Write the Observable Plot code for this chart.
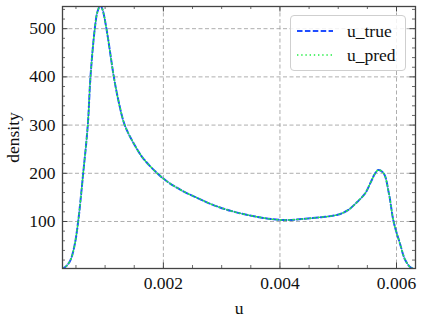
<!DOCTYPE html>
<html><head><meta charset="utf-8">
<script src="https://cdn.jsdelivr.net/npm/d3@7"></script>
<script src="https://cdn.jsdelivr.net/npm/@observablehq/plot@0.6"></script>
<style>
body{margin:0;background:#fff;}
#chart{position:relative;width:423px;height:321px;font-family:"Liberation Serif",serif;}
#chart svg text{font-family:"Liberation Serif",serif !important;font-size:17.5px !important;fill:#111;}
#legend{position:absolute;left:290px;top:15px;width:114px;height:54px;border:1px solid #cfcfcf;border-radius:4px;background:rgba(255,255,255,0.85);font-size:17.5px;color:#111;}
#legend .row{position:absolute;left:6px;height:20px;display:flex;align-items:center;}
#legend .row span{margin-left:14px;}
</style>
</head><body><div id="chart"></div>
<script>
const uValues = [0.000269,0.000338,0.000406,0.000475,0.000538,0.000624,0.000703,0.000749,0.000823,0.000869,0.00092,0.000955,0.001023,0.00115,0.00123,0.001337,0.001491,0.00166,0.002,0.00229,0.00258,0.00284,0.00316,0.00351,0.00385,0.00408,0.00437,0.00471,0.00499,0.00516,0.00533,0.00546,0.00556,0.00563,0.00569,0.00578,0.00587,0.00595,0.00606,0.00615,0.00624,0.00632];
const densityTrue = [2,8,20,50,100,200,300,400,500,535,548,540,500,400,350,300,262,230,189,166,149,135,122,112,105,103,105,109,114,123,141,158,182,199,207,200,158,100,54,20,5,1];
const densityPred = densityTrue.slice();
const seriesNames = ["u_true","u_pred"];
const xMajorTicks = [0.002,0.004,0.006];
const xMinorTicks = [0.0005,0.001,0.0015,0.0025,0.003,0.0035,0.0045,0.005,0.0055];
const yMajorTicks = [100,200,300,400,500];
const yMinorTicks = [20,40,60,80,120,140,160,180,220,240,260,280,320,340,360,380,420,440,460,480,520,540];

const blue = "#1f4dff", green = "#22ee44";
const W=423,H=321,mL=62,mR=8,mT=6,mB=53;
const plotH=H-mT-mB, plotW=W-mL-mR;
const data = uValues.map((u,i)=>({u, t:densityTrue[i], p:densityPred[i]}));
const frameColor="#444";
const grid = {stroke:"#999", strokeOpacity:1, strokeDasharray:"4,2.5", strokeWidth:0.8};
const plot = Plot.plot({
  width:W, height:H, marginLeft:mL, marginRight:mR, marginTop:mT, marginBottom:mB,
  style:{fontFamily:"Liberation Serif, serif", fontSize:"17.5px", color:"#111", background:"transparent"},
  x:{domain:[0.000269,0.006326]},
  y:{domain:[2.5,546]},
  marks:[
    Plot.gridX(xMajorTicks, grid),
    Plot.gridY(yMajorTicks, grid),
    Plot.line(data,{x:"u",y:"t",stroke:blue,strokeWidth:2,strokeDasharray:"5.5,2.4",curve:"catmull-rom",clip:true}),
    Plot.line(data,{x:"u",y:"p",stroke:green,strokeWidth:1.4,strokeDasharray:"1.4,2.8",curve:"catmull-rom",clip:true}),
    Plot.tickX(xMajorTicks,{x:d=>d,insetTop:plotH-5.5,stroke:frameColor,strokeWidth:1}),
    Plot.tickX(xMajorTicks,{x:d=>d,insetBottom:plotH-5.5,stroke:frameColor,strokeWidth:1}),
    Plot.tickX(xMinorTicks,{x:d=>d,insetTop:plotH-3,stroke:frameColor,strokeWidth:0.8}),
    Plot.tickX(xMinorTicks,{x:d=>d,insetBottom:plotH-3,stroke:frameColor,strokeWidth:0.8}),
    Plot.tickY(yMajorTicks,{y:d=>d,insetRight:plotW-5.5,stroke:frameColor,strokeWidth:1}),
    Plot.tickY(yMajorTicks,{y:d=>d,insetLeft:plotW-5.5,stroke:frameColor,strokeWidth:1}),
    Plot.tickY(yMinorTicks,{y:d=>d,insetRight:plotW-3,stroke:frameColor,strokeWidth:0.8}),
    Plot.tickY(yMinorTicks,{y:d=>d,insetLeft:plotW-3,stroke:frameColor,strokeWidth:0.8}),
    Plot.frame({stroke:frameColor,strokeWidth:1.3}),
    Plot.axisX(xMajorTicks,{tickSize:0,tickPadding:8,tickFormat:d3.format(".3f"),label:"u",labelAnchor:"center",labelArrow:"none",labelOffset:45}),
    Plot.axisY(yMajorTicks,{tickSize:0,tickPadding:7,label:"density",labelAnchor:"center",labelArrow:"none",labelOffset:56})
  ]
});
const chart=document.getElementById("chart");
chart.appendChild(plot);
const legend=document.createElement("div");
legend.id="legend";
const styles=[{stroke:blue,dash:"5.5,2.4",w:2},{stroke:green,dash:"1.4,2.8",w:1.4}];
seriesNames.forEach((name,i)=>{
  const row=document.createElement("div");
  row.className="row";
  row.style.top=(5+i*24)+"px";
  row.innerHTML=`<svg width="36" height="6"><line x1="0" x2="36" y1="3" y2="3" stroke="${styles[i].stroke}" stroke-width="${styles[i].w}" stroke-dasharray="${styles[i].dash}"/></svg><span>${name}</span>`;
  legend.appendChild(row);
});
chart.appendChild(legend);
</script>
</body></html>
